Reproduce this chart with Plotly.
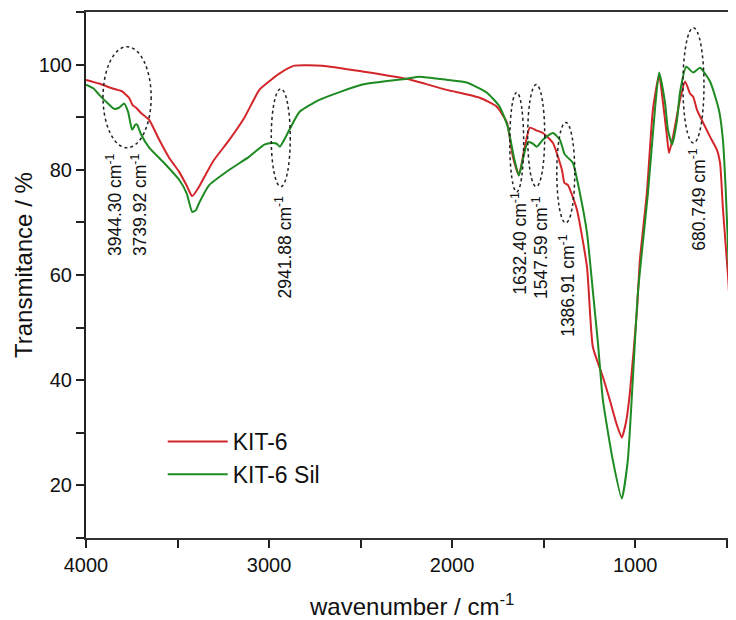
import plotly.graph_objects as go

# ---------------- data ----------------
kit6_wn = [4000, 3929, 3850, 3803, 3765, 3745, 3726, 3700, 3655, 3600, 3546, 3491, 3450, 3420,
           3382, 3340, 3300, 3217, 3135, 3053, 3000, 2944, 2862, 2709, 2490, 2249, 2030,
           1849, 1756, 1701, 1668, 1635, 1603, 1575, 1540, 1504, 1449, 1400, 1386, 1367,
           1318, 1263, 1231, 1176, 1138, 1100, 1073, 1050, 1029, 990, 974, 936, 903, 869, 848,
           826, 815, 793, 755, 727, 700, 683, 662, 645, 591, 553, 536, 520, 492, 465, 449]
kit6_T = [97.1, 96.4, 95.4, 94.9, 93.7, 92.3, 91.8, 90.8, 89.5, 85.7, 82.3, 79.6, 77.0, 75.0,
          76.8, 79.5, 81.9, 85.7, 89.9, 95.2, 96.8, 98.3, 99.8, 99.8, 98.7, 97.3, 95.2,
          93.7, 92.0, 89.0, 82.5, 79.0, 84.4, 88.0, 87.5, 87.0, 85.1, 80.0, 77.5, 77.1,
          72.4, 61.5, 46.3, 40.6, 36.2, 31.5, 29.1, 32.0, 37.5, 53.3, 62.9, 75.6, 91.4, 98.1, 92.8,
          86.3, 83.2, 86.3, 93.3, 96.8, 94.5, 93.9, 91.4, 90.1, 86.3, 83.8, 81.3, 72.4, 59.6, 47.0, 47.2]

sil_wn = [4000, 3960, 3929, 3874, 3847, 3820, 3792, 3770, 3748, 3730, 3721, 3700, 3655, 3573,
          3491, 3450, 3420, 3400, 3382, 3327, 3217, 3108, 3026, 2982, 2960, 2941, 2920, 2889,
          2834, 2725, 2490, 2249, 2178, 2030, 1921, 1811, 1740, 1696, 1660,
          1635, 1610, 1586, 1560, 1537, 1504, 1449, 1411, 1386, 1373, 1340, 1302, 1263, 1230,
          1203, 1176, 1122, 1073, 1040, 1012, 985, 930, 892, 869, 837, 821, 798, 771, 755, 721,
          683, 645, 591, 553, 540, 520, 505, 490, 475, 465, 449]
sil_T = [96.2, 95.5, 94.3, 92.4, 91.6, 91.8, 92.6, 91.0, 87.6, 88.6, 88.6, 86.8, 84.2, 81.3,
         78.1, 75.5, 72.0, 72.3, 73.7, 77.1, 80.0, 82.5, 84.8, 85.1, 85.0, 84.4, 85.5, 87.6,
         91.0, 93.3, 96.2, 97.3, 97.7, 97.1, 96.6, 94.7, 92.0, 88.2, 82.0,
         78.9, 82.5, 85.3, 85.0, 84.4, 85.7, 87.0, 85.7, 83.0, 82.5, 81.3, 75.6, 68.0, 56.6,
         47.0, 36.2, 24.8, 17.5, 24.8, 40.6, 56.6, 75.6, 91.4, 98.5, 92.8, 87.6, 84.8, 89.5, 94.7, 99.6,
         98.5, 99.4, 96.8, 92.8, 91.0, 85.5, 76.0, 63.0, 51.0, 45.1, 46.0]

series_names = ["KIT-6", "KIT-6 Sil"]

peak_labels = ["3944.30 cm<sup>-1</sup>", "3739.92 cm<sup>-1</sup>", "2941.88 cm<sup>-1</sup>",
               "1632.40 cm<sup>-1</sup>", "1547.59 cm<sup>-1</sup>", "1386.91 cm<sup>-1</sup>",
               "680.749 cm<sup>-1</sup>"]
# label centre (wavenumber, %T)
label_wn = [3847, 3710, 2922, 1636, 1521, 1373, 662]
label_T = [73.3, 73.3, 65.3, 66.1, 65.3, 58.1, 74.3]

# dotted ellipses: (wn_left, wn_right, T_bottom, T_top)
ell_wn0 = [3907, 2988, 1685, 1587, 1428, 739]
ell_wn1 = [3644, 2884, 1609, 1494, 1330, 624]
ell_T0 = [84.2, 76.8, 75.8, 76.8, 69.9, 85.1]
ell_T1 = [103.4, 95.4, 94.7, 96.2, 89.0, 107.0]

# ---------------- figure ----------------
RED = "#d3262b"
GREEN = "#1e8a22"
FONT = "Arial, Liberation Sans, sans-serif"
TXT = "#111111"

fig = go.Figure()
fig.add_trace(go.Scatter(x=kit6_wn, y=kit6_T, mode="lines", name=series_names[0],
                         line=dict(color=RED, width=2, shape="spline", smoothing=0.5)))
fig.add_trace(go.Scatter(x=sil_wn, y=sil_T, mode="lines", name=series_names[1],
                         line=dict(color=GREEN, width=2, shape="spline", smoothing=0.5)))

for a, b, c, d in zip(ell_wn0, ell_wn1, ell_T0, ell_T1):
    fig.add_shape(type="circle", xref="x", yref="y", x0=a, x1=b, y0=c, y1=d,
                  line=dict(color="#222222", width=1.5, dash="dot"), layer="above")

for txt, xw, yt in zip(peak_labels, label_wn, label_T):
    fig.add_annotation(x=xw, y=yt, xref="x", yref="y", text=txt, textangle=-90,
                       xanchor="center", yanchor="middle",
                       showarrow=False, font=dict(family=FONT, size=17.5, color=TXT))

# axis titles
fig.add_annotation(x=-0.0969, y=0.519, xref="paper", yref="paper", text="Transmitance / %",
                   textangle=-90, showarrow=False, xanchor="center", yanchor="middle",
                   font=dict(family=FONT, size=24, color=TXT))
fig.add_annotation(x=0.5015, y=-0.127, xref="paper", yref="paper",
                   text="wavenumber / cm<sup>-1</sup>", showarrow=False,
                   xanchor="center", yanchor="middle",
                   font=dict(family=FONT, size=24, color=TXT))

# page body has an 8px margin: figure is 728x612 so that the plot area sits at
# x 86..736, y 12..538 of the 736x620 window without scrollbars
fig.update_layout(
    width=728, height=612,
    margin=dict(l=78, r=0, t=4, b=82),
    paper_bgcolor="white", plot_bgcolor="white",
    font=dict(family=FONT, size=20, color=TXT),
    showlegend=True,
    legend=dict(x=0.118, y=0.2244, xanchor="left", yanchor="top",
                bgcolor="rgba(0,0,0,0)", font=dict(size=23), itemwidth=60,
                tracegroupgap=0),
)
fig.update_xaxes(range=[4000, 449], showgrid=False, zeroline=False,
                 showline=True, linecolor="#333333", linewidth=2, mirror=True,
                 ticks="outside", ticklen=8, tickwidth=1.5, tickcolor="#222222",
                 tickmode="linear", tick0=0, dtick=1000,
                 minor=dict(ticks="outside", ticklen=8, dtick=500, tick0=0, tickcolor="#222222"),
                 tickfont=dict(size=20))
fig.update_yaxes(range=[10, 110], showgrid=False, zeroline=False,
                 showline=True, linecolor="#222222", linewidth=2,
                 ticks="outside", ticklen=8, tickwidth=1.5, tickcolor="#222222",
                 tickmode="linear", tick0=0, dtick=20,
                 minor=dict(ticks="outside", ticklen=8, dtick=10, tick0=0, tickcolor="#222222"),
                 tickfont=dict(size=20))

fig.write_html("out.html")
